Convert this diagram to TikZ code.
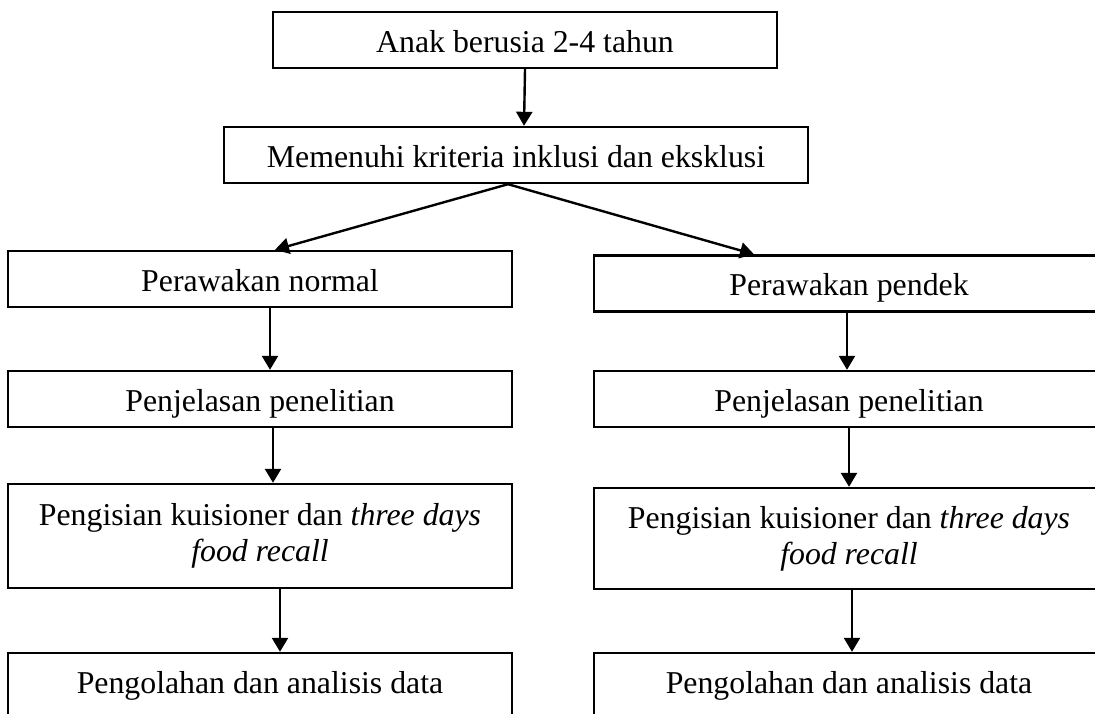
\documentclass[tikz,border=0pt]{standalone}
\usepackage{fontspec}
\setmainfont{Liberation Serif}
\usetikzlibrary{arrows.meta}

\begin{document}
\begin{tikzpicture}[x=0.5pt, y=-0.5pt,
        kotak/.style={draw, line width=1.2pt, inner sep=0pt, align=center, font=\fontsize{15.9}{18}\selectfont},
        satu/.style={kotak, minimum height=28pt, text height=12pt, text depth=0pt},
        panah/.style={-{Triangle[length=7pt, width=8pt]}, line width=1.2pt}]
    \useasboundingbox (0,0) rectangle (1095,713);
    \clip (0,0) rectangle (1095,713);
    \node[satu, minimum width=252pt] (A) at (525,40) {Anak berusia 2-4 tahun};
    \node[satu, minimum width=292pt] (K) at (516,155) {Memenuhi kriteria inklusi dan eksklusi};
    \node[satu, minimum width=252pt] (N) at (260,279) {Perawakan normal};
    \node[satu, minimum width=255pt] (P) at (849,283.5) {Perawakan pendek};
    \node[satu, minimum width=252pt] (J1) at (260,399) {Penjelasan penelitian};
    \node[satu, minimum width=255pt] (J2) at (849,399) {Penjelasan penelitian};
    \node[kotak, minimum width=252pt, minimum height=52pt] (I1) at (260,536) {Pengisian kuisioner dan \textit{three days}\\\textit{food recall}};
    \node[kotak, minimum width=255pt, minimum height=50.5pt] (I2) at (849,538.5) {Pengisian kuisioner dan \textit{three days}\\\textit{food recall}};
    % the last two boxes run past the bottom edge
    \node[satu, minimum width=252pt, minimum height=36pt, text depth=8pt] (O1) at (260,689) {Pengolahan dan analisis data};
    \node[satu, minimum width=255pt, minimum height=36pt, text depth=8pt] (O2) at (849,689) {Pengolahan dan analisis data};
    \draw[panah] (A.south) -- ([xshift=4pt]K.north);
    \draw[panah] ([xshift=-4pt]K.south) -- ([xshift=7.5pt]N.north);
    \draw[panah] ([xshift=-4pt]K.south) -- ([xshift=-47.5pt]P.north);
    \draw[panah] ([xshift=5pt]N.south) -- ([xshift=5pt]J1.north);
    \draw[panah] ([xshift=6.5pt]J1.south) -- ([xshift=6.5pt]I1.north);
    \draw[panah] ([xshift=10pt]I1.south) -- ([xshift=10pt]O1.north);
    \draw[panah] ([xshift=-1pt]P.south) -- ([xshift=-1pt]J2.north);
    \draw[panah] (J2.south) -- (I2.north);
    \draw[panah] ([xshift=1.5pt]I2.south) -- ([xshift=1.5pt]O2.north);
\end{tikzpicture}
\end{document}
